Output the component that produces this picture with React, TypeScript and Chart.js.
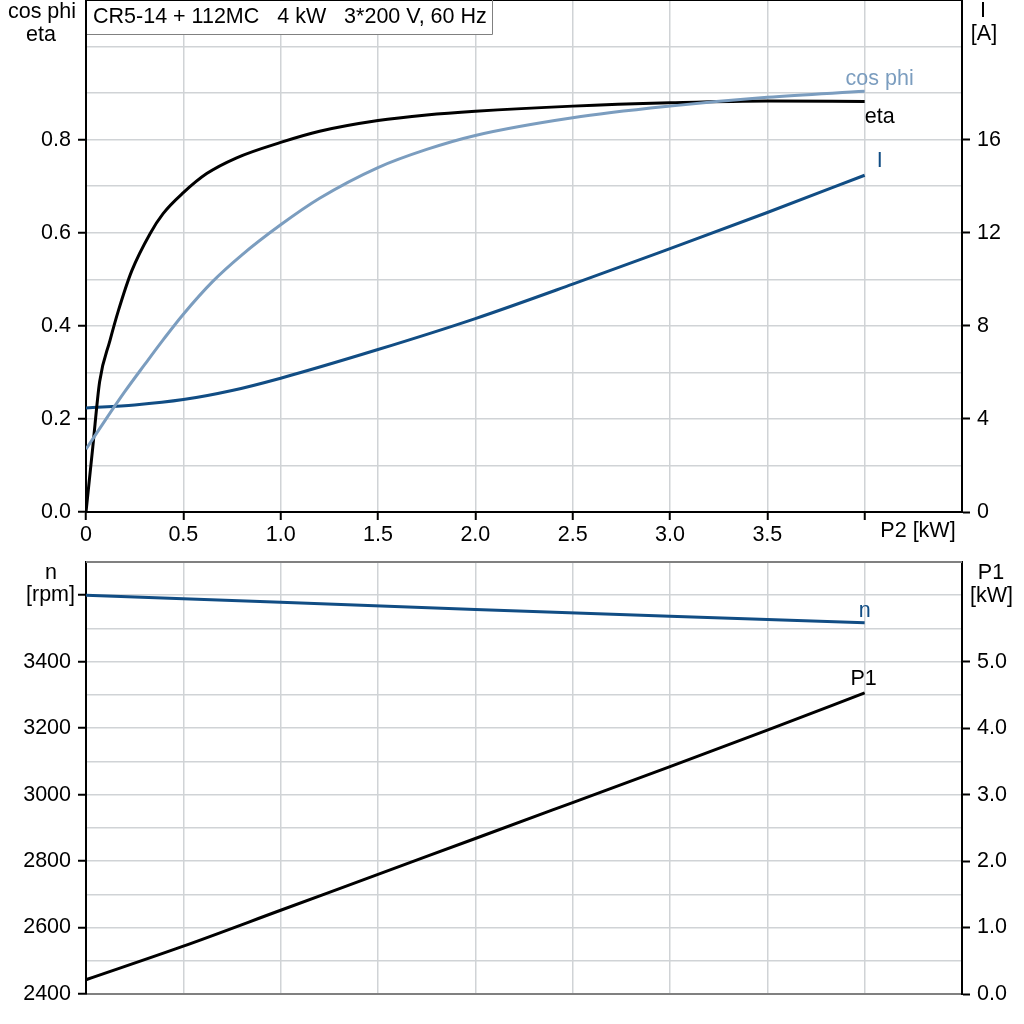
import React, { useEffect, useRef } from "react";
import { Chart, registerables } from "chart.js";

Chart.register(...registerables);

const FONT_FAMILY = "'Liberation Sans', Arial, Helvetica, sans-serif";
const TEXT_SIZE = 21.5;
const GRID_COLOR = "#d0d3d6";
const ETA_COLOR = "#000000";
const COS_COLOR = "#7b9dbf";
const I_COLOR = "#114d84";
const N_COLOR = "#114d84";
const P1_COLOR = "#000000";

const titleText = "CR5-14 + 112MC   4 kW   3*200 V, 60 Hz";

// ---- top chart data (x = P2 [kW]) ----
const etaP2 = [0, 0.035, 0.07, 0.123, 0.166, 0.235, 0.329, 0.396, 0.5, 0.62, 0.774, 1.0, 1.2, 1.5, 1.75, 2.0, 2.5, 3.0, 3.5, 4.0];
const etaValues = [0, 0.14, 0.28, 0.368, 0.432, 0.518, 0.598, 0.641, 0.686, 0.727, 0.761, 0.794, 0.818, 0.841, 0.853, 0.861, 0.872, 0.879, 0.883, 0.882];

const cosPhiP2 = [0, 0.1, 0.2, 0.3, 0.4, 0.5, 0.65, 0.8, 1.0, 1.2, 1.5, 1.75, 2.0, 2.5, 3.0, 3.5, 4.0];
const cosPhiValues = [0.135, 0.198, 0.259, 0.316, 0.372, 0.425, 0.495, 0.552, 0.617, 0.674, 0.74, 0.779, 0.809, 0.847, 0.872, 0.891, 0.904];

const currentP2 = [0, 0.25, 0.5, 0.75, 1.0, 1.5, 2.0, 2.5, 3.0, 3.5, 4.0];
const currentValues = [4.47, 4.6, 4.83, 5.22, 5.75, 6.98, 8.31, 9.79, 11.32, 12.87, 14.47];

// ---- bottom chart data ----
const speedP2 = [0, 1, 2, 3, 4];
const speedValues = [3600, 3579, 3557, 3537, 3517];

const p1P2 = [0, 0.5, 1.0, 1.5, 2.0, 2.5, 3.0, 3.5, 4.0];
const p1Values = [0.215, 0.72, 1.26, 1.8, 2.34, 2.88, 3.42, 3.97, 4.53];

// ---- axes / ticks ----
const p2Min = 0;
const p2Max = 4.5;
const p2TickValues = [0, 0.5, 1.0, 1.5, 2.0, 2.5, 3.0, 3.5, 4.0, 4.5];
const p2LabelledMax = 3.5;
const p2TickMarkMax = 4.0;

const effMin = 0;
const effMax = 1.1;
const effTickValues = [0, 0.1, 0.2, 0.3, 0.4, 0.5, 0.6, 0.7, 0.8, 0.9, 1.0];
const effLabelled = [0, 0.2, 0.4, 0.6, 0.8];

const currentMin = 0;
const currentMax = 22;
const currentTickValues = [0, 4, 8, 12, 16];

const speedMin = 2400;
const speedMax = 3700;
const speedTickValues = [2400, 2500, 2600, 2700, 2800, 2900, 3000, 3100, 3200, 3300, 3400, 3500, 3600];
const speedLabelled = [2400, 2600, 2800, 3000, 3200, 3400];
const speedMarked = [2400, 2600, 2800, 3000, 3200, 3400, 3600];

const p1Min = 0;
const p1Max = 6.5;
const p1TickValues = [0, 1, 2, 3, 4, 5];

const near = (a: number, b: number) => Math.abs(a - b) < 1e-6;
const inList = (v: number, list: number[]) => list.some((x) => near(x, v));
const pts = (xs: number[], ys: number[]) => xs.map((x, i) => ({ x, y: ys[i] }));
const font = (size = TEXT_SIZE) => `${size}px ${FONT_FAMILY}`;
const TRANSPARENT = "rgba(0,0,0,0)";

function drawText(ctx: CanvasRenderingContext2D, text: string, x: number, y: number, color: string, align: CanvasTextAlign = "center") {
  ctx.fillStyle = color;
  ctx.textAlign = align;
  ctx.textBaseline = "alphabetic";
  ctx.fillText(text, x, y);
}

function lastPoint(chart: any, index: number) {
  const meta = chart.getDatasetMeta(index);
  const el = meta.data[meta.data.length - 1];
  return { x: el.x, y: el.y };
}

const TOP_H = 546;
const BOTTOM_TOP = 546;
const BOTTOM_H = 1024 - 546;

const topDecor = {
  id: "topDecor",
  afterDraw(chart: any) {
    const { ctx, chartArea } = chart;
    ctx.save();
    // top border
    ctx.strokeStyle = "#000";
    ctx.lineWidth = 2;
    ctx.beginPath();
    ctx.moveTo(chartArea.left, chartArea.top);
    ctx.lineTo(chartArea.right, chartArea.top);
    ctx.stroke();

    // title box
    ctx.fillStyle = "#fff";
    ctx.fillRect(chartArea.left + 1, chartArea.top + 1, 405, 33);
    ctx.strokeStyle = "#808080";
    ctx.lineWidth = 1;
    ctx.beginPath();
    ctx.moveTo(chartArea.left + 406.5, chartArea.top);
    ctx.lineTo(chartArea.left + 406.5, chartArea.top + 34.5);
    ctx.lineTo(chartArea.left + 1, chartArea.top + 34.5);
    ctx.stroke();
    ctx.font = font(TEXT_SIZE);
    drawText(ctx, titleText, chartArea.left + 7, 23, "#000", "left");

    // axis titles
    drawText(ctx, "cos phi", 42, 18, "#000");
    drawText(ctx, "eta", 41, 41, "#000");
    drawText(ctx, "I", 983, 17, "#000");
    drawText(ctx, "[A]", 984, 40, "#000");
    drawText(ctx, "P2 [kW]", 918, 537, "#000");

    // curve labels
    const cp = lastPoint(chart, 0);
    drawText(ctx, "cos phi", cp.x + 15, cp.y - 6, COS_COLOR);
    const ep = lastPoint(chart, 1);
    drawText(ctx, "eta", ep.x + 15, ep.y + 22, ETA_COLOR);
    const ip = lastPoint(chart, 2);
    drawText(ctx, "I", ip.x + 15, ip.y - 8, I_COLOR);
    ctx.restore();
  },
};

const bottomDecor = {
  id: "bottomDecor",
  afterDraw(chart: any) {
    const { ctx, chartArea } = chart;
    ctx.save();
    ctx.strokeStyle = "#808080";
    ctx.lineWidth = 2;
    ctx.beginPath();
    ctx.moveTo(chartArea.left, chartArea.top);
    ctx.lineTo(chartArea.right, chartArea.top);
    ctx.stroke();

    ctx.font = font(TEXT_SIZE);
    const off = BOTTOM_TOP;
    drawText(ctx, "n", 51, 579 - off, "#000");
    drawText(ctx, "[rpm]", 50.5, 601 - off, "#000");
    drawText(ctx, "P1", 991, 579 - off, "#000");
    drawText(ctx, "[kW]", 991.5, 602 - off, "#000");

    const np = lastPoint(chart, 0);
    drawText(ctx, "n", np.x, np.y - 6, N_COLOR);
    const pp = lastPoint(chart, 1);
    drawText(ctx, "P1", pp.x - 1, pp.y - 8, "#000");
    ctx.restore();
  },
};

const tickFont = { family: FONT_FAMILY, size: TEXT_SIZE };

function setTicks(values: number[]) {
  return (scale: any) => {
    scale.ticks = values.map((v) => ({ value: v }));
  };
}

function topConfig(): any {
  return {
    type: "line",
    data: {
      datasets: [
        { label: "cos phi", data: pts(cosPhiP2, cosPhiValues), yAxisID: "y", borderColor: COS_COLOR, borderWidth: 3, pointRadius: 0, cubicInterpolationMode: "monotone", fill: false },
        { label: "eta", data: pts(etaP2, etaValues), yAxisID: "y", borderColor: ETA_COLOR, borderWidth: 3, pointRadius: 0, cubicInterpolationMode: "monotone", fill: false },
        { label: "I", data: pts(currentP2, currentValues), yAxisID: "y1", borderColor: I_COLOR, borderWidth: 3, pointRadius: 0, cubicInterpolationMode: "monotone", fill: false },
      ],
    },
    options: {
      animation: false,
      responsive: false,
      devicePixelRatio: 1,
      layout: { padding: 0 },
      plugins: { legend: { display: false }, tooltip: { enabled: false }, title: { display: false } },
      scales: {
        x: {
          type: "linear",
          min: p2Min,
          max: p2Max,
          afterBuildTicks: setTicks(p2TickValues),
          ticks: {
            autoSkip: false,
            maxRotation: 0,
            color: "#000",
            font: tickFont,
            padding: 2,
            callback: (v: number) => (near(v, 0) ? "0" : v <= p2LabelledMax + 1e-6 ? v.toFixed(1) : ""),
          },
          grid: {
            color: GRID_COLOR,
            lineWidth: 1.5,
            tickLength: 8,
            tickWidth: 2,
            tickColor: (c: any) => (c.tick && c.tick.value <= p2TickMarkMax + 1e-6 ? "#000" : TRANSPARENT),
          },
          border: { color: "#000", width: 2 },
          afterFit: (s: any) => {
            s.height = 34;
            s.paddingLeft = 0;
            s.paddingRight = 0;
          },
        },
        y: {
          type: "linear",
          position: "left",
          min: effMin,
          max: effMax,
          afterBuildTicks: setTicks(effTickValues),
          ticks: {
            color: "#000",
            font: tickFont,
            padding: 7,
            callback: (v: number) => (inList(v, effLabelled) ? v.toFixed(1) : ""),
          },
          grid: {
            color: GRID_COLOR,
            lineWidth: 1.5,
            tickLength: 8,
            tickWidth: 2,
            tickColor: (c: any) => (c.tick && inList(c.tick.value, effLabelled) ? "#000" : TRANSPARENT),
          },
          border: { color: "#000", width: 2 },
          afterFit: (s: any) => {
            s.width = 86;
            s.paddingTop = 0;
            s.paddingBottom = 0;
          },
        },
        y1: {
          type: "linear",
          position: "right",
          min: currentMin,
          max: currentMax,
          afterBuildTicks: setTicks(currentTickValues),
          ticks: { color: "#000", font: tickFont, padding: 7, callback: (v: number) => String(v) },
          grid: { drawOnChartArea: false, tickLength: 8, tickWidth: 2, tickColor: "#000", color: "#000" },
          border: { color: "#000", width: 2 },
          afterFit: (s: any) => {
            s.width = 62;
            s.paddingTop = 0;
            s.paddingBottom = 0;
          },
        },
      },
    },
    plugins: [topDecor],
  };
}

function bottomConfig(): any {
  return {
    type: "line",
    data: {
      datasets: [
        { label: "n", data: pts(speedP2, speedValues), yAxisID: "y", borderColor: N_COLOR, borderWidth: 3, pointRadius: 0, tension: 0, fill: false },
        { label: "P1", data: pts(p1P2, p1Values), yAxisID: "y1", borderColor: P1_COLOR, borderWidth: 3, pointRadius: 0, cubicInterpolationMode: "monotone", fill: false },
      ],
    },
    options: {
      animation: false,
      responsive: false,
      devicePixelRatio: 1,
      layout: { padding: { top: 16, bottom: 30, left: 0, right: 0 } },
      plugins: { legend: { display: false }, tooltip: { enabled: false }, title: { display: false } },
      scales: {
        x: {
          type: "linear",
          min: p2Min,
          max: p2Max,
          afterBuildTicks: setTicks(p2TickValues),
          ticks: { display: false },
          grid: { color: GRID_COLOR, lineWidth: 1.5, drawTicks: false },
          border: { color: "#808080", width: 2 },
          afterFit: (s: any) => {
            s.height = 0;
            s.paddingLeft = 0;
            s.paddingRight = 0;
          },
        },
        y: {
          type: "linear",
          position: "left",
          min: speedMin,
          max: speedMax,
          afterBuildTicks: setTicks(speedTickValues),
          ticks: {
            color: "#000",
            font: tickFont,
            padding: 7,
            callback: (v: number) => (inList(v, speedLabelled) ? String(v) : ""),
          },
          grid: {
            color: GRID_COLOR,
            lineWidth: 1.5,
            tickLength: 8,
            tickWidth: 2,
            tickColor: (c: any) => (c.tick && inList(c.tick.value, speedMarked) ? "#000" : TRANSPARENT),
          },
          border: { color: "#000", width: 2 },
          afterFit: (s: any) => {
            s.width = 86;
            s.paddingTop = 0;
            s.paddingBottom = 0;
          },
        },
        y1: {
          type: "linear",
          position: "right",
          min: p1Min,
          max: p1Max,
          afterBuildTicks: setTicks(p1TickValues),
          ticks: { color: "#000", font: tickFont, padding: 7, callback: (v: number) => v.toFixed(1) },
          grid: { drawOnChartArea: false, tickLength: 8, tickWidth: 2, tickColor: "#000", color: "#000" },
          border: { color: "#000", width: 2 },
          afterFit: (s: any) => {
            s.width = 62;
            s.paddingTop = 0;
            s.paddingBottom = 0;
          },
        },
      },
    },
    plugins: [bottomDecor],
  };
}

export default function App() {
  const topRef = useRef<HTMLCanvasElement>(null);
  const bottomRef = useRef<HTMLCanvasElement>(null);

  useEffect(() => {
    document.body.style.margin = "0";
    const top = new Chart(topRef.current as HTMLCanvasElement, topConfig());
    const bottom = new Chart(bottomRef.current as HTMLCanvasElement, bottomConfig());
    return () => {
      top.destroy();
      bottom.destroy();
    };
  }, []);

  return (
    <div style={{ position: "relative", width: 1024, height: 1024, background: "#fff" }}>
      <canvas
        ref={topRef}
        width={1024}
        height={TOP_H}
        style={{ position: "absolute", left: 0, top: 0, width: 1024, height: TOP_H }}
      />
      <canvas
        ref={bottomRef}
        width={1024}
        height={BOTTOM_H}
        style={{ position: "absolute", left: 0, top: BOTTOM_TOP, width: 1024, height: BOTTOM_H }}
      />
    </div>
  );
}
